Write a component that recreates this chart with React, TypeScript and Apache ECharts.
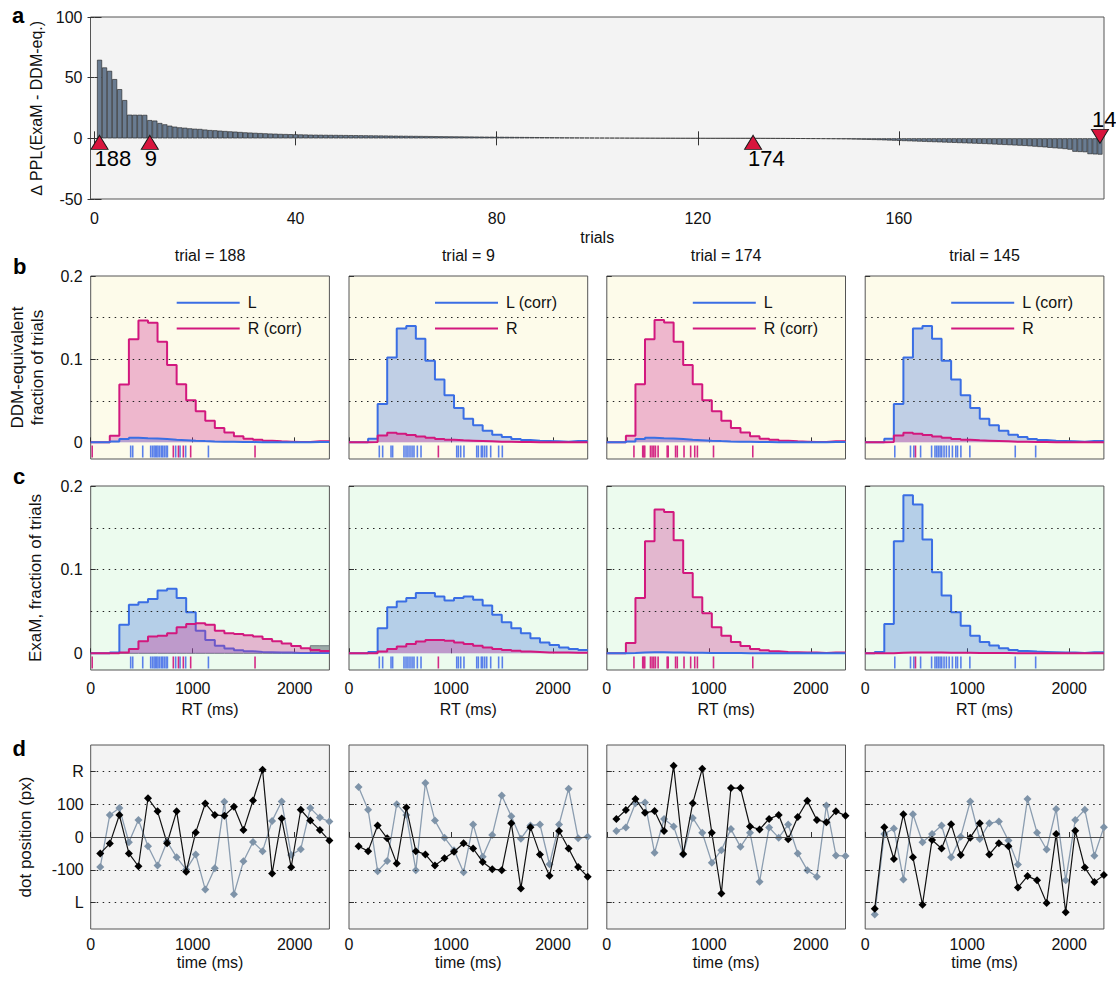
import React, { useEffect, useRef } from 'react';
import * as echarts from 'echarts';

const FONT = '"Liberation Sans", Arial, Helvetica, sans-serif';

// ---------------- panel a ----------------
const deltaPPL: number[] = [
  64.7, 58.4, 55.6, 48.8, 40.5, 31.5, 19.5, 19.4, 19.4, 19.3,
  15.0, 14.6, 12.6, 11.5, 10.4, 9.6, 9.0, 8.7, 8.2, 7.9,
  7.7, 7.2, 6.8, 6.6, 6.3, 6.0, 5.7, 5.5, 5.2, 4.9,
  4.7, 4.5, 4.3, 4.1, 3.9, 3.8, 3.6, 3.5, 3.4, 3.3,
  3.2, 3.1, 3.0, 2.95, 2.9, 2.85, 2.8, 2.75, 2.7, 2.65,
  2.6, 2.55, 2.5, 2.45, 2.4, 2.35, 2.3, 2.25, 2.2, 2.15,
  2.1, 2.05, 2.0, 1.95, 1.9, 1.85, 1.8, 1.75, 1.7, 1.66,
  1.62, 1.58, 1.54, 1.5, 1.46, 1.42, 1.38, 1.34, 1.3, 1.26,
  1.22, 1.18, 1.14, 1.1, 1.06, 1.02, 0.98, 0.94, 0.9, 0.86,
  0.82, 0.78, 0.74, 0.7, 0.67, 0.64, 0.61, 0.58, 0.55, 0.52,
  0.49, 0.46, 0.43, 0.4, 0.37, 0.34, 0.31, 0.28, 0.25, 0.22,
  0.2, 0.18, 0.16, 0.14, 0.12, 0.1, 0.08, 0.07, 0.06, 0.05,
  0.04, 0.03, 0.02, 0.02, 0.01, 0.01, 0.005, 0.003, 0.002, 0.001,
  -0.01, -0.03, -0.05, -0.08, -0.11, -0.14, -0.17, -0.2, -0.24, -0.28,
  -0.32, -0.36, -0.4, -0.45, -0.5, -0.55, -0.6, -0.66, -0.72, -0.8,
  -0.9, -1.0, -1.1, -1.2, -1.3, -1.45, -1.6, -1.75, -1.9, -2.05,
  -2.2, -2.35, -2.5, -2.65, -2.8, -2.95, -3.1, -3.25, -3.4, -3.55,
  -3.7, -3.85, -4.0, -4.15, -4.3, -4.45, -4.6, -4.8, -5.0, -5.2,
  -5.4, -5.6, -5.8, -6.0, -6.2, -6.5, -6.8, -7.1, -7.4, -7.8,
  -8.1, -8.4, -8.8, -9.3, -11.0, -11.2, -11.4, -13.0, -13.2, -13.4,
];
const trialTicks = [0, 40, 80, 120, 160];
const deltaTicks = [-50, 0, 50, 100];
const markerTrials = [1, 11, 131, 200];
const markerLabels = ['188', '9', '174', '145'];
const markerDown = [false, false, false, true];

// ---------------- panels b-d ----------------
const trialTitles = ['trial = 188', 'trial = 9', 'trial = 174', 'trial = 145'];
const binEdges = [0, 93.6, 187.2, 280.8, 374.4, 468, 561.6, 655.2, 748.8, 842.4, 936, 1029.6, 1123.2,
  1216.8, 1310.4, 1404, 1497.6, 1591.2, 1684.8, 1778.4, 1872, 1965.6, 2059.2, 2152.8, 2246.4, 2340];
const rtTicks = [0, 1000, 2000];
const fracTicks = [0, 0.1, 0.2];
const fracGridLines = [0.05, 0.1, 0.15];

// DDM-equivalent histograms (panel b)
const ddmL188 = [0, 0, 0.001, 0.004, 0.0056, 0.005, 0.0045, 0.004, 0.0032, 0.0026, 0.002, 0.0015, 0.0011, 0.0008, 0.0006, 0.0004, 0.0003, 0.0002, 0.0002, 0.0001, 0.0001, 0.0001, 0.0001, 0.0003, 0.0003];
const ddmR188 = [0, 0, 0.008, 0.0695, 0.124, 0.1466, 0.1438, 0.121, 0.093, 0.07, 0.0506, 0.0373, 0.026, 0.0173, 0.012, 0.0072, 0.0044, 0.003, 0.002, 0.0012, 0.0008, 0.0004, 0.0004, 0.0012, 0.0012];
const ddmL9 = [0, 0, 0.0044, 0.046, 0.102, 0.137, 0.1398, 0.1245, 0.098, 0.0755, 0.0566, 0.0414, 0.0285, 0.0205, 0.014, 0.0092, 0.0064, 0.004, 0.0028, 0.002, 0.0016, 0.0012, 0.0008, 0.0016, 0.0016];
const ddmR9 = [0, 0, 0.0005, 0.0084, 0.0116, 0.0104, 0.009, 0.007, 0.0056, 0.004, 0.003, 0.0024, 0.002, 0.0016, 0.0012, 0.0008, 0.0006, 0.0004, 0.0003, 0.0002, 0.0002, 0.0001, 0.0001, 0.0002, 0.0002];
const ddmL174 = [0, 0, 0.001, 0.004, 0.0056, 0.005, 0.0045, 0.004, 0.0032, 0.0026, 0.002, 0.0015, 0.0011, 0.0008, 0.0006, 0.0004, 0.0003, 0.0002, 0.0002, 0.0001, 0.0001, 0.0001, 0.0001, 0.0003, 0.0003];
const ddmR174 = [0, 0, 0.008, 0.07, 0.124, 0.147, 0.144, 0.121, 0.093, 0.07, 0.0506, 0.0373, 0.026, 0.0173, 0.012, 0.0072, 0.0044, 0.003, 0.002, 0.0012, 0.0008, 0.0004, 0.0004, 0.0012, 0.0012];
const ddmL145 = [0, 0, 0.0044, 0.046, 0.102, 0.137, 0.14, 0.1245, 0.098, 0.0755, 0.0566, 0.0414, 0.0285, 0.0205, 0.014, 0.0092, 0.0064, 0.004, 0.0028, 0.002, 0.0016, 0.0012, 0.0008, 0.0016, 0.0016];
const ddmR145 = [0, 0, 0.0005, 0.0084, 0.0116, 0.0104, 0.009, 0.007, 0.0056, 0.004, 0.003, 0.0024, 0.002, 0.0016, 0.0012, 0.0008, 0.0006, 0.0004, 0.0003, 0.0002, 0.0002, 0.0001, 0.0001, 0.0002, 0.0002];

// ExaM histograms (panel c)
const examL188 = [0, 0, 0.001, 0.034, 0.058, 0.061, 0.065, 0.075, 0.077, 0.066, 0.049, 0.027, 0.016, 0.009, 0.0056, 0.0036, 0.0024, 0.0016, 0.0012, 0.0008, 0.0008, 0.0004, 0.0004, 0.0004, 0.0004];
const examR188 = [0, 0, 0, 0.001, 0.005, 0.0144, 0.02, 0.021, 0.024, 0.031, 0.035, 0.036, 0.034, 0.027, 0.024, 0.023, 0.0216, 0.02, 0.0172, 0.0144, 0.0116, 0.0088, 0.006, 0.004, 0.0028];
const examGray188 = [0, 0, 0, 0, 0, 0, 0, 0, 0, 0, 0, 0, 0, 0, 0, 0, 0, 0, 0, 0, 0, 0, 0, 0.009, 0.009];
const examL9 = [0, 0, 0.0015, 0.03, 0.055, 0.062, 0.066, 0.072, 0.072, 0.068, 0.063, 0.066, 0.068, 0.064, 0.057, 0.046, 0.037, 0.03, 0.024, 0.018, 0.013, 0.01, 0.007, 0.005, 0.004];
const examR9 = [0, 0, 0, 0.002, 0.005, 0.008, 0.011, 0.014, 0.016, 0.016, 0.015, 0.013, 0.011, 0.009, 0.007, 0.005, 0.004, 0.003, 0.002, 0.0015, 0.001, 0.001, 0.0008, 0.0006, 0.0006];
const examL174 = [0, 0, 0.0003, 0.0008, 0.0012, 0.0012, 0.001, 0.0008, 0.0006, 0.0005, 0.0004, 0.0003, 0.0002, 0.0002, 0.0001, 0.0001, 0, 0, 0, 0, 0, 0, 0, 0, 0];
const examR174 = [0, 0, 0.0124, 0.066, 0.134, 0.172, 0.169, 0.135, 0.096, 0.067, 0.048, 0.031, 0.021, 0.0136, 0.0088, 0.0052, 0.0036, 0.0024, 0.0016, 0.0012, 0.0008, 0.0008, 0.0004, 0.0008, 0.0008];
const examL145 = [0, 0.0016, 0.035, 0.134, 0.189, 0.178, 0.136, 0.097, 0.069, 0.049, 0.033, 0.021, 0.0136, 0.0092, 0.006, 0.004, 0.0028, 0.002, 0.0016, 0.0012, 0.0008, 0.0008, 0.0004, 0.0012, 0.0012];
const examR145 = [0, 0, 0, 0.0006, 0.0008, 0.0008, 0.0008, 0.0008, 0.0006, 0.0006, 0.0005, 0.0004, 0.0003, 0.0002, 0.0002, 0.0001, 0, 0, 0, 0, 0, 0, 0, 0, 0];

const legendL = ['L', 'L (corr)', 'L', 'L (corr)'];
const legendR = ['R (corr)', 'R', 'R (corr)', 'R'];

// observed response times (rug marks, ms)
const rugL188 = [392, 412, 510, 588, 605, 621, 634, 647, 660, 676, 693, 706, 722, 739, 752, 833, 876, 931, 1154];
const rugR188 = [15, 810, 860, 908, 980, 1611];
const rugL9 = [297, 330, 412, 428, 539, 559, 578, 598, 618, 637, 670, 706, 1056, 1072, 1095, 1127, 1252, 1268, 1297, 1310, 1330, 1350, 1389, 1467, 1503];
const rugR9 = [876];
const rugL174: number[] = [];
const rugR174 = [266, 352, 362, 372, 428, 444, 461, 477, 503, 592, 602, 674, 691, 757, 822, 862, 888, 1046, 1431];
const rugL145 = [290, 444, 477, 543, 651, 684, 701, 717, 734, 750, 773, 796, 823, 855, 888, 905, 938, 1026, 1471, 1671];
const rugR145 = [493];

// dot positions (panel d)
const dotTimes = [93.6, 187.2, 280.8, 374.4, 468, 561.6, 655.2, 748.8, 842.4, 936, 1029.6, 1123.2,
  1216.8, 1310.4, 1404, 1497.6, 1591.2, 1684.8, 1778.4, 1872, 1965.6, 2059.2, 2152.8, 2246.4, 2340];
const dotBlack188 = [-50, -20, 67, -50, -89, 118, 78, -19, 78, -106, 14, 102, 67, 65, 92, 21, 111, 205, -111, 56, -92, 83, 50, 21, -11];
const dotGray188 = [-91, 67, 88, -16, 52, -28, -87, -14, -62, -99, -53, -160, -95, 107, -174, -74, -15, -43, 49, 108, -55, -37, 88, 59, 47];
const dotBlack9 = [-28, -43, 35, -4, -81, 90, -43, -53, -87, -65, -45, -19, -35, -76, -98, -101, 42, -157, 30, -53, -118, 18, -35, -91, -121];
const dotGray9 = [152, 83, -104, -73, 100, 67, -101, 164, 50, -2, -40, -107, 38, -60, 6, 126, 63, -5, 35, 38, -83, 38, 147, -4, 1];
const dotBlack174 = [55, 82, 116, 74, 79, 18, 217, -52, 103, 208, 13, -172, 149, 149, 32, 23, 55, 67, -7, 61, 110, 52, 45, 78, 65];
const dotGray174 = [18, 29, 103, 105, -48, 55, 32, -53, 58, 13, -78, -40, 24, -30, 13, -136, 29, -2, 38, -50, -101, -121, 96, -56, -58];
const dotBlack145 = [-218, 30, -67, 69, -62, -206, -9, -35, 39, -55, -2, 42, -53, -19, -28, -154, -119, -132, -201, 9, -229, 19, -93, -137, -116];
const dotGray145 = [-236, 9, 26, -129, 69, -16, 9, 35, -62, 1, 108, -6, 42, 47, -11, -84, 116, 13, -38, 85, -132, 52, 83, -57, 30];
const dotTicks = [-200, -100, 0, 100, 200];
const dotTickLabels = ['L', '-100', '0', '100', 'R'];
const dotGridLines = [-200, -100, 100, 200];

const ddmL = [ddmL188, ddmL9, ddmL174, ddmL145];
const ddmR = [ddmR188, ddmR9, ddmR174, ddmR145];
const examL = [examL188, examL9, examL174, examL145];
const examR = [examR188, examR9, examR174, examR145];
const examGray: (number[] | null)[] = [examGray188, null, null, null];
const rugL = [rugL188, rugL9, rugL174, rugL145];
const rugR = [rugR188, rugR9, rugR174, rugR145];
const dotBlack = [dotBlack188, dotBlack9, dotBlack174, dotBlack145];
const dotGray = [dotGray188, dotGray9, dotGray174, dotGray145];

// ---------------- layout & style ----------------
const COL_LEFT = [90.7, 349, 606.8, 865.2];
const COL_W = 238.7;
const ROW_B = { top: 276, height: 183 };
const ROW_C = { top: 486, height: 184 };
const ROW_D = { top: 745, height: 184 };

const BLUE = '#3a6ee4';
const MAGENTA = '#d2187e';
const BLUE_FILL = 'rgba(60,110,220,0.45)';
const MAG_FILL = 'rgba(208,45,145,0.47)';
const RUG_BLUE = '#5a80ea';
const RUG_MAG = '#d42a86';
const TXT = '#111';

const txt = (size: number) => ({ fontSize: size, fontFamily: FONT, color: TXT });
const plain = (v: number) => String(v);

function histData(vals: number[]) {
  return binEdges.map((e, k) => [e, vals[Math.min(k, vals.length - 1)]]);
}

function histSeries(gi: number, vals: number[], line: string, fill: string, z: number) {
  return {
    type: 'line', xAxisIndex: gi, yAxisIndex: gi, step: 'end', data: histData(vals),
    symbol: 'none', showSymbol: false, silent: true, z,
    lineStyle: { color: line, width: 2 }, areaStyle: { color: fill, origin: 'auto' },
  };
}

function refLineSeries(gi: number, levels: number[], zeroSolid: boolean) {
  const items: any[] = levels.map((y) => ({ yAxis: y }));
  if (zeroSolid) items.push({ yAxis: 0, lineStyle: { type: 'solid', color: '#4a4a4a', width: 1.2 } });
  return {
    type: 'line', xAxisIndex: gi, yAxisIndex: gi, data: [[0, 0]], symbol: 'none', showSymbol: false,
    lineStyle: { width: 0, opacity: 0 }, silent: true, z: 1,
    markLine: {
      silent: true, symbol: ['none', 'none'], label: { show: false },
      lineStyle: { type: [1.5, 4.5], color: '#222', width: 1 }, data: items,
    },
  };
}

function rugSeries(gi: number, times: number[], color: string) {
  return {
    type: 'scatter', xAxisIndex: gi, yAxisIndex: gi, silent: true, z: 4,
    symbol: 'rect', symbolSize: [1.6, 12], itemStyle: { color, opacity: 1 },
    data: times.map((t) => [t, -0.011]),
  };
}

function buildOption() {
  const grid: any[] = [];
  const xAxis: any[] = [];
  const yAxis: any[] = [];
  const series: any[] = [];
  const graphic: any[] = [];
  const frame = { show: true, borderColor: '#555', borderWidth: 1, outerBoundsMode: 'none' };
  const tick = (vals?: number[]) => ({
    show: true, inside: true, length: 5, lineStyle: { color: '#333' }, ...(vals ? { customValues: vals } : {}),
  });

  // ---- panel a (grid 0) ----
  grid.push({ ...frame, left: 90.5, top: 17, width: 1013.5, height: 182, backgroundColor: '#f3f3f3' });
  xAxis.push({
    type: 'value', gridIndex: 0, min: -0.8, max: 200.8, axisLine: { show: false }, splitLine: { show: false },
    axisTick: { ...tick(trialTicks), length: 7 },
    axisLabel: { customValues: trialTicks, margin: 11, formatter: plain, ...txt(16) },
    name: 'trials', nameLocation: 'middle', nameGap: 30, nameTextStyle: txt(16),
  });
  yAxis.push({
    type: 'value', gridIndex: 0, min: -50, max: 100, interval: 50, axisLine: { show: false }, splitLine: { show: false },
    axisTick: { ...tick(), length: 7 }, axisLabel: { margin: 8, formatter: plain, ...txt(16) },
    name: '∆ PPL(ExaM - DDM-eq.)', nameLocation: 'middle', nameGap: 46, nameRotate: 90, nameTextStyle: txt(16),
  });

  // ---- panels b, c, d ----
  for (let i = 0; i < 4; i++) {
    const left = COL_LEFT[i];
    const gb = 1 + i, gc = 5 + i, gd = 9 + i;
    grid[gb] = { ...frame, left, width: COL_W, top: ROW_B.top, height: ROW_B.height, backgroundColor: '#fdfbea' };
    grid[gc] = { ...frame, left, width: COL_W, top: ROW_C.top, height: ROW_C.height, backgroundColor: '#ecfbee' };
    grid[gd] = { ...frame, left, width: COL_W, top: ROW_D.top, height: ROW_D.height, backgroundColor: '#f3f3f3' };

    xAxis[gb] = {
      type: 'value', gridIndex: gb, min: 0, max: 2340, axisLine: { show: false }, splitLine: { show: false },
      axisTick: tick(rtTicks), axisLabel: { show: false, customValues: rtTicks },
    };
    yAxis[gb] = {
      type: 'value', gridIndex: gb, min: -0.02, max: 0.2, axisLine: { show: false }, splitLine: { show: false },
      axisTick: tick(fracTicks), axisLabel: { show: i === 0, customValues: fracTicks, margin: 8, formatter: plain, ...txt(16) },
      ...(i === 0 ? {
        name: 'DDM-equivalent\nfraction of trials', nameLocation: 'middle', nameGap: 43, nameRotate: 90,
        nameTextStyle: { ...txt(17), lineHeight: 20 },
      } : {}),
    };
    xAxis[gc] = {
      type: 'value', gridIndex: gc, min: 0, max: 2340, axisLine: { show: false }, splitLine: { show: false },
      axisTick: tick(rtTicks), axisLabel: { customValues: rtTicks, margin: 10, formatter: plain, ...txt(16) },
      name: 'RT (ms)', nameLocation: 'middle', nameGap: 31, nameTextStyle: txt(16),
    };
    yAxis[gc] = {
      type: 'value', gridIndex: gc, min: -0.02, max: 0.2, axisLine: { show: false }, splitLine: { show: false },
      axisTick: tick(fracTicks), axisLabel: { show: i === 0, customValues: fracTicks, margin: 8, formatter: plain, ...txt(16) },
      ...(i === 0 ? {
        name: 'ExaM, fraction of trials', nameLocation: 'middle', nameGap: 47, nameRotate: 90, nameTextStyle: txt(17),
      } : {}),
    };
    xAxis[gd] = {
      type: 'value', gridIndex: gd, min: 0, max: 2340, axisLine: { show: false }, splitLine: { show: false },
      axisTick: tick(rtTicks), axisLabel: { customValues: rtTicks, margin: 7, formatter: plain, ...txt(16) },
      name: 'time (ms)', nameLocation: 'middle', nameGap: 25, nameTextStyle: txt(16),
    };
    yAxis[gd] = {
      type: 'value', gridIndex: gd, min: -280, max: 280, axisLine: { show: false }, splitLine: { show: false },
      axisTick: tick(dotTicks),
      axisLabel: {
        show: i === 0, customValues: dotTicks, margin: 7, ...txt(16),
        formatter: (v: number) => {
          const k = dotTicks.indexOf(Math.round(v));
          return k >= 0 ? dotTickLabels[k] : String(v);
        },
      },
      ...(i === 0 ? {
        name: 'dot position (px)', nameLocation: 'middle', nameGap: 57, nameRotate: 90, nameTextStyle: txt(17),
      } : {}),
    };
  }

  // mirrored tick axes for panel a (top / right)
  xAxis[13] = {
    type: 'value', gridIndex: 0, position: 'top', min: -0.8, max: 200.8, axisLine: { show: false }, splitLine: { show: false },
    axisTick: { ...tick(trialTicks), length: 7 }, axisLabel: { show: false, customValues: trialTicks },
  };
  yAxis[13] = {
    type: 'value', gridIndex: 0, position: 'right', min: -50, max: 100, axisLine: { show: false }, splitLine: { show: false },
    axisTick: { ...tick(deltaTicks), length: 7 }, axisLabel: { show: false, customValues: deltaTicks },
  };

  // panel a series
  series.push({
    type: 'bar', xAxisIndex: 0, yAxisIndex: 0, silent: true, z: 2, barWidth: 5,
    itemStyle: { color: '#6a7c91', borderColor: '#1c1c1c', borderWidth: 0.6 },
    data: deltaPPL.map((v, i) => [i + 1, v]),
  });
  series.push({
    type: 'scatter', xAxisIndex: 0, yAxisIndex: 0, silent: true, z: 5, symbol: 'triangle', symbolSize: [17, 14],
    itemStyle: { color: '#d8153d', borderColor: '#1a1a1a', borderWidth: 1, opacity: 1 },
    data: markerTrials.map((t, i) => ({
      value: [t, 0], name: markerLabels[i],
      symbolRotate: markerDown[i] ? 180 : 0,
      symbolOffset: markerDown[i] ? [0, -2] : [0, 4],
      label: {
        show: true, formatter: '{b}', position: markerDown[i] ? 'top' : 'bottom', align: 'left',
        offset: markerDown[i] ? [-8, 4] : [-5, -4], distance: 2,
        fontSize: 22, fontFamily: FONT, color: '#000', textBorderWidth: 0,
      },
    })),
  });

  for (let i = 0; i < 4; i++) {
    const left = COL_LEFT[i];
    const gb = 1 + i, gc = 5 + i, gd = 9 + i;

    // b series
    series.push(refLineSeries(gb, fracGridLines, false));
    const bPair = [
      { v: ddmR[i], c: MAGENTA, f: MAG_FILL },
      { v: ddmL[i], c: BLUE, f: BLUE_FILL },
    ].sort((a, b) => Math.max(...b.v) - Math.max(...a.v));
    bPair.forEach((p, k) => series.push(histSeries(gb, p.v, p.c, p.f, 2 + k)));
    series.push(rugSeries(gb, rugL[i], RUG_BLUE));
    series.push(rugSeries(gb, rugR[i], RUG_MAG));

    // c series
    series.push(refLineSeries(gc, fracGridLines, false));
    const g = examGray[i];
    if (g) {
      series.push({
        type: 'line', xAxisIndex: gc, yAxisIndex: gc, step: 'end', data: histData(g), symbol: 'none',
        silent: true, z: 2, lineStyle: { color: '#6e7c7e', width: 1 }, areaStyle: { color: '#7a888a', origin: 'auto' },
      });
    }
    const cPair = [
      { v: examR[i], c: MAGENTA, f: MAG_FILL },
      { v: examL[i], c: BLUE, f: BLUE_FILL },
    ].sort((a, b) => Math.max(...b.v) - Math.max(...a.v));
    cPair.forEach((p, k) => series.push(histSeries(gc, p.v, p.c, p.f, 3 + k)));
    series.push(rugSeries(gc, rugL[i], RUG_BLUE));
    series.push(rugSeries(gc, rugR[i], RUG_MAG));

    // d series
    series.push(refLineSeries(gd, dotGridLines, true));
    series.push({
      type: 'line', xAxisIndex: gd, yAxisIndex: gd, silent: true, z: 3,
      data: dotTimes.map((t, k) => [t, dotGray[i][k]]),
      symbol: 'diamond', symbolSize: 8, showSymbol: true,
      lineStyle: { color: '#8b9db0', width: 1.3 }, itemStyle: { color: '#7e93a8' },
    });
    series.push({
      type: 'line', xAxisIndex: gd, yAxisIndex: gd, silent: true, z: 4,
      data: dotTimes.map((t, k) => [t, dotBlack[i][k]]),
      symbol: 'diamond', symbolSize: 8, showSymbol: true,
      lineStyle: { color: '#111', width: 1.2 }, itemStyle: { color: '#000' },
    });

    // titles & legends
    graphic.push({
      type: 'text', x: left + COL_W / 2, y: 255, z: 10,
      style: { text: trialTitles[i], fontSize: 16, fontFamily: FONT, fill: TXT, align: 'center', verticalAlign: 'middle' },
    });
    const ly1 = ROW_B.top + 26.7, ly2 = ROW_B.top + 52.5;
    graphic.push({ type: 'line', z: 10, shape: { x1: left + 86, y1: ly1, x2: left + 149, y2: ly1 }, style: { stroke: BLUE, lineWidth: 2 } });
    graphic.push({ type: 'line', z: 10, shape: { x1: left + 86, y1: ly2, x2: left + 149, y2: ly2 }, style: { stroke: MAGENTA, lineWidth: 2 } });
    graphic.push({
      type: 'text', x: left + 157, y: ly1, z: 10,
      style: { text: legendL[i], fontSize: 16, fontFamily: FONT, fill: TXT, align: 'left', verticalAlign: 'middle' },
    });
    graphic.push({
      type: 'text', x: left + 157, y: ly2, z: 10,
      style: { text: legendR[i], fontSize: 16, fontFamily: FONT, fill: TXT, align: 'left', verticalAlign: 'middle' },
    });
  }

  // panel letters
  const letters = [
    { t: 'a', x: 12, y: 15 }, { t: 'b', x: 13, y: 266 }, { t: 'c', x: 13, y: 476 }, { t: 'd', x: 12.5, y: 748 },
  ];
  letters.forEach((l) => graphic.push({
    type: 'text', x: l.x, y: l.y, z: 10,
    style: { text: l.t, fontSize: 22, fontWeight: 'bold', fontFamily: FONT, fill: '#000', align: 'left', verticalAlign: 'middle' },
  }));

  return { animation: false, backgroundColor: '#ffffff', grid, xAxis, yAxis, series, graphic };
}

export default function App() {
  const ref = useRef<HTMLDivElement>(null);
  useEffect(() => {
    if (!ref.current) return;
    const chart = echarts.init(ref.current, null, { renderer: 'svg' });
    chart.setOption(buildOption() as any);
    return () => chart.dispose();
  }, []);
  return <div ref={ref} style={{ position: 'absolute', left: 0, top: 0, width: 1116, height: 983 }} />;
}
